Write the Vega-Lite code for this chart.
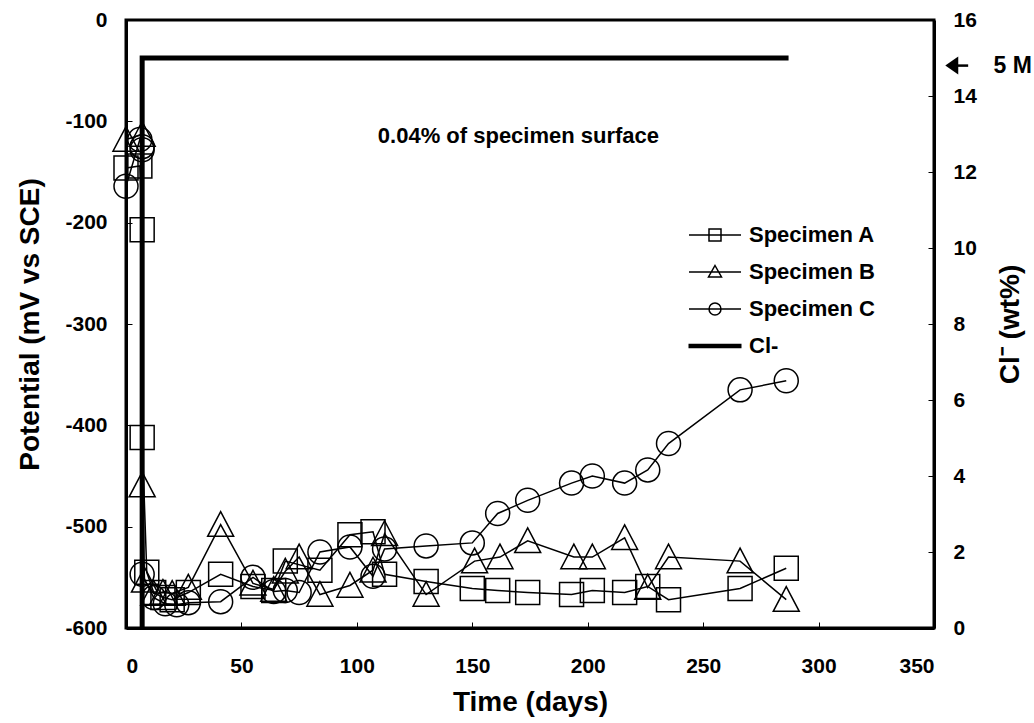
{
  "$schema": "https://vega.github.io/schema/vega-lite/v6.json",
  "width": 808,
  "height": 608,
  "autosize": {"type": "none"},
  "padding": {"left": 126, "top": 20, "right": 100, "bottom": 95},
  "background": "white",
  "config": {
    "font": "Liberation Sans",
    "view": {"stroke": "black", "strokeWidth": 3},
    "axis": {
      "labelFont": "Liberation Sans", "labelFontWeight": "bold", "labelFontSize": 21, "labelColor": "black",
      "titleFont": "Liberation Sans", "titleFontWeight": "bold", "titleFontSize": 28, "titleColor": "black",
      "domainColor": "black", "domainWidth": 3, "tickColor": "black", "tickWidth": 1, "tickSize": -6, "grid": false,
      "labelExpr": "'' + datum.value"
    },
    "legend": {
      "orient": "none", "legendX": 578, "legendY": 204, "padding": 0,
      "symbolSize": 400, "symbolStrokeColor": "black", "symbolStrokeWidth": 1.5, "symbolOpacity": 1,
      "labelFont": "Liberation Sans", "labelFontWeight": "bold", "labelFontSize": 22, "labelColor": "black",
      "labelOffset": 23, "rowPadding": 15, "symbolOffset": 0
    }
  },
  "data": {"values": [
    {"series": "Specimen A", "day": 0, "potential": -146},
    {"series": "Specimen A", "day": 6, "potential": -144},
    {"series": "Specimen A", "day": 7, "potential": -207},
    {"series": "Specimen A", "day": 7, "potential": -412},
    {"series": "Specimen A", "day": 9, "potential": -545},
    {"series": "Specimen A", "day": 12, "potential": -565},
    {"series": "Specimen A", "day": 16, "potential": -570},
    {"series": "Specimen A", "day": 20, "potential": -572},
    {"series": "Specimen A", "day": 27, "potential": -565},
    {"series": "Specimen A", "day": 41, "potential": -547},
    {"series": "Specimen A", "day": 55, "potential": -559},
    {"series": "Specimen A", "day": 64, "potential": -563},
    {"series": "Specimen A", "day": 69, "potential": -534},
    {"series": "Specimen A", "day": 84, "potential": -543},
    {"series": "Specimen A", "day": 97, "potential": -508},
    {"series": "Specimen A", "day": 107, "potential": -505},
    {"series": "Specimen A", "day": 112, "potential": -547},
    {"series": "Specimen A", "day": 130, "potential": -554},
    {"series": "Specimen A", "day": 150, "potential": -561},
    {"series": "Specimen A", "day": 161, "potential": -563},
    {"series": "Specimen A", "day": 174, "potential": -565},
    {"series": "Specimen A", "day": 193, "potential": -567},
    {"series": "Specimen A", "day": 202, "potential": -563},
    {"series": "Specimen A", "day": 216, "potential": -565},
    {"series": "Specimen A", "day": 226, "potential": -559},
    {"series": "Specimen A", "day": 235, "potential": -572},
    {"series": "Specimen A", "day": 266, "potential": -561},
    {"series": "Specimen A", "day": 286, "potential": -541},
    {"series": "Specimen B", "day": 0, "potential": -118},
    {"series": "Specimen B", "day": 7, "potential": -113},
    {"series": "Specimen B", "day": 7, "potential": -459},
    {"series": "Specimen B", "day": 8, "potential": -553},
    {"series": "Specimen B", "day": 12, "potential": -566},
    {"series": "Specimen B", "day": 16, "potential": -565},
    {"series": "Specimen B", "day": 20, "potential": -566},
    {"series": "Specimen B", "day": 27, "potential": -560},
    {"series": "Specimen B", "day": 41, "potential": -498},
    {"series": "Specimen B", "day": 55, "potential": -556},
    {"series": "Specimen B", "day": 64, "potential": -562},
    {"series": "Specimen B", "day": 69, "potential": -544},
    {"series": "Specimen B", "day": 75, "potential": -530},
    {"series": "Specimen B", "day": 84, "potential": -567},
    {"series": "Specimen B", "day": 97, "potential": -558},
    {"series": "Specimen B", "day": 107, "potential": -543},
    {"series": "Specimen B", "day": 112, "potential": -507},
    {"series": "Specimen B", "day": 130, "potential": -567},
    {"series": "Specimen B", "day": 151, "potential": -534},
    {"series": "Specimen B", "day": 162, "potential": -530},
    {"series": "Specimen B", "day": 174, "potential": -514},
    {"series": "Specimen B", "day": 194, "potential": -530},
    {"series": "Specimen B", "day": 202, "potential": -530},
    {"series": "Specimen B", "day": 216, "potential": -511},
    {"series": "Specimen B", "day": 226, "potential": -560},
    {"series": "Specimen B", "day": 235, "potential": -530},
    {"series": "Specimen B", "day": 266, "potential": -534},
    {"series": "Specimen B", "day": 286, "potential": -572},
    {"series": "Specimen C", "day": 0, "potential": -164},
    {"series": "Specimen C", "day": 6, "potential": -118},
    {"series": "Specimen C", "day": 7, "potential": -125},
    {"series": "Specimen C", "day": 7, "potential": -128},
    {"series": "Specimen C", "day": 7, "potential": -547},
    {"series": "Specimen C", "day": 12, "potential": -570},
    {"series": "Specimen C", "day": 17, "potential": -576},
    {"series": "Specimen C", "day": 22, "potential": -577},
    {"series": "Specimen C", "day": 27, "potential": -575},
    {"series": "Specimen C", "day": 41, "potential": -574},
    {"series": "Specimen C", "day": 55, "potential": -550},
    {"series": "Specimen C", "day": 64, "potential": -564},
    {"series": "Specimen C", "day": 69, "potential": -563},
    {"series": "Specimen C", "day": 75, "potential": -565},
    {"series": "Specimen C", "day": 84, "potential": -525},
    {"series": "Specimen C", "day": 97, "potential": -520},
    {"series": "Specimen C", "day": 107, "potential": -549},
    {"series": "Specimen C", "day": 112, "potential": -522},
    {"series": "Specimen C", "day": 130, "potential": -519},
    {"series": "Specimen C", "day": 150, "potential": -516},
    {"series": "Specimen C", "day": 161, "potential": -487},
    {"series": "Specimen C", "day": 174, "potential": -474},
    {"series": "Specimen C", "day": 193, "potential": -457},
    {"series": "Specimen C", "day": 202, "potential": -450},
    {"series": "Specimen C", "day": 216, "potential": -457},
    {"series": "Specimen C", "day": 226, "potential": -444},
    {"series": "Specimen C", "day": 235, "potential": -418},
    {"series": "Specimen C", "day": 266, "potential": -365},
    {"series": "Specimen C", "day": 286, "potential": -356},
    {"series": "Cl-", "day": 7, "cl": 0},
    {"series": "Cl-", "day": 7, "cl": 15},
    {"series": "Cl-", "day": 287, "cl": 15}
  ]},
  "layer": [
    {
      "layer": [
        {
          "transform": [{"filter": "datum.series !== 'Cl-'"}],
          "mark": {"type": "line", "color": "black", "strokeWidth": 1.5},
          "encoding": {
            "x": {"field": "day", "type": "quantitative", "scale": {"domain": [0, 350], "nice": false},
                  "axis": {"title": "Time (days)", "values": [0, 50, 100, 150, 200, 250, 300, 350], "labelPadding": 33, "titlePadding": 12}},
            "y": {"field": "potential", "type": "quantitative", "scale": {"domain": [-600, 0], "nice": false},
                  "axis": {"title": "Potential (mV vs SCE)", "values": [-600, -500, -400, -300, -200, -100, 0], "labelPadding": 25, "titlePadding": 20}},
            "detail": {"field": "series"}
          }
        },
        {
          "transform": [{"filter": "datum.series === 'Specimen A'"}],
          "mark": {"type": "point", "shape": "square", "size": 576, "filled": false, "stroke": "black", "strokeWidth": 1.5, "opacity": 1},
          "encoding": {
            "x": {"field": "day", "type": "quantitative", "scale": {"domain": [0, 350], "nice": false},
                  "axis": {"title": "Time (days)", "values": [0, 50, 100, 150, 200, 250, 300, 350], "labelPadding": 33, "titlePadding": 12}},
            "y": {"field": "potential", "type": "quantitative", "scale": {"domain": [-600, 0], "nice": false},
                  "axis": {"title": "Potential (mV vs SCE)", "values": [-600, -500, -400, -300, -200, -100, 0], "labelPadding": 25, "titlePadding": 20}}
          }
        },
        {
          "transform": [{"filter": "datum.series === 'Specimen B'"}],
          "mark": {"type": "point", "shape": "M0,-1L-1,0.9L1,0.9Z", "size": 676, "filled": false, "stroke": "black", "strokeWidth": 1.5, "opacity": 1},
          "encoding": {
            "x": {"field": "day", "type": "quantitative", "scale": {"domain": [0, 350], "nice": false},
                  "axis": {"title": "Time (days)", "values": [0, 50, 100, 150, 200, 250, 300, 350], "labelPadding": 33, "titlePadding": 12}},
            "y": {"field": "potential", "type": "quantitative", "scale": {"domain": [-600, 0], "nice": false},
                  "axis": {"title": "Potential (mV vs SCE)", "values": [-600, -500, -400, -300, -200, -100, 0], "labelPadding": 25, "titlePadding": 20}}
          }
        },
        {
          "transform": [{"filter": "datum.series === 'Specimen C'"}],
          "mark": {"type": "point", "shape": "circle", "size": 576, "filled": false, "stroke": "black", "strokeWidth": 1.5, "opacity": 1},
          "encoding": {
            "x": {"field": "day", "type": "quantitative", "scale": {"domain": [0, 350], "nice": false},
                  "axis": {"title": "Time (days)", "values": [0, 50, 100, 150, 200, 250, 300, 350], "labelPadding": 33, "titlePadding": 12}},
            "y": {"field": "potential", "type": "quantitative", "scale": {"domain": [-600, 0], "nice": false},
                  "axis": {"title": "Potential (mV vs SCE)", "values": [-600, -500, -400, -300, -200, -100, 0], "labelPadding": 25, "titlePadding": 20}}
          }
        },
        {
          "mark": {"type": "point", "opacity": 0, "filled": false, "stroke": "black", "strokeWidth": 1.5},
          "encoding": {
            "x": {"field": "day", "type": "quantitative", "scale": {"domain": [0, 350], "nice": false},
                  "axis": {"title": "Time (days)", "values": [0, 50, 100, 150, 200, 250, 300, 350], "labelPadding": 33, "titlePadding": 12}},
            "y": {"field": "potential", "type": "quantitative", "scale": {"domain": [-600, 0], "nice": false},
                  "axis": {"title": "Potential (mV vs SCE)", "values": [-600, -500, -400, -300, -200, -100, 0], "labelPadding": 25, "titlePadding": 20}},
            "shape": {"field": "series", "type": "nominal",
              "scale": {"domain": ["Specimen A", "Specimen B", "Specimen C", "Cl-"],
                        "range": ["M-2.6,0H2.6M-0.6,-0.6H0.6V0.6H-0.6Z", "M-2.6,0H2.6M0,-0.65L0.65,0.5H-0.65Z", "M-2.6,0H2.6M0.6,0A0.6,0.6,0,1,1,-0.6,0A0.6,0.6,0,1,1,0.6,0", "M-2.65,-0.15H2.65M-2.65,0H2.65M-2.65,0.15H2.65"]},
              "legend": {"title": null}}
          }
        },
        {
          "data": {"values": [{"label": "0.04% of specimen surface"}]},
          "mark": {"type": "text", "font": "Liberation Sans", "fontWeight": "bold", "fontSize": 22, "color": "black", "align": "center", "baseline": "alphabetic"},
          "encoding": {
            "x": {"datum": 170, "type": "quantitative", "scale": {"domain": [0, 350], "nice": false},
                  "axis": {"title": "Time (days)", "values": [0, 50, 100, 150, 200, 250, 300, 350], "labelPadding": 33, "titlePadding": 12}},
            "y": {"datum": -121.7, "type": "quantitative", "scale": {"domain": [-600, 0], "nice": false},
                  "axis": {"title": "Potential (mV vs SCE)", "values": [-600, -500, -400, -300, -200, -100, 0], "labelPadding": 25, "titlePadding": 20}},
            "text": {"field": "label"}
          }
        }
      ]
    },
    {
      "layer": [
        {
          "transform": [{"filter": "datum.series === 'Cl-'"}],
          "mark": {"type": "line", "color": "black", "strokeWidth": 5, "strokeJoin": "miter", "strokeCap": "butt"},
          "encoding": {
            "x": {"field": "day", "type": "quantitative", "scale": {"domain": [0, 350], "nice": false},
                  "axis": {"title": "Time (days)", "values": [0, 50, 100, 150, 200, 250, 300, 350], "labelPadding": 33, "titlePadding": 12}},
            "y": {"field": "cl", "type": "quantitative", "scale": {"domain": [0, 16], "nice": false},
                  "axis": {"orient": "right", "title": "Cl⁻ (wt%)", "values": [0, 2, 4, 6, 8, 10, 12, 14, 16], "labelPadding": 25, "titlePadding": 20, "titleAngle": -90, "titleBaseline": "top"}}
          }
        },
        {
          "data": {"values": [{"label": "5 M"}]},
          "mark": {"type": "rule", "color": "black", "strokeWidth": 2.5},
          "encoding": {
            "x": {"datum": 357, "type": "quantitative", "scale": {"domain": [0, 350], "nice": false},
                  "axis": {"title": "Time (days)", "values": [0, 50, 100, 150, 200, 250, 300, 350], "labelPadding": 33, "titlePadding": 12}},
            "x2": {"datum": 364.8},
            "y": {"datum": 14.8, "type": "quantitative", "scale": {"domain": [0, 16], "nice": false},
                  "axis": {"orient": "right", "title": "Cl⁻ (wt%)", "values": [0, 2, 4, 6, 8, 10, 12, 14, 16], "labelPadding": 25, "titlePadding": 20, "titleAngle": -90, "titleBaseline": "top"}}
          }
        },
        {
          "data": {"values": [{"label": "5 M"}]},
          "mark": {"type": "point", "shape": "M-0.72,0L0.72,-1L0.72,1Z", "size": 324, "filled": true, "color": "black", "opacity": 1},
          "encoding": {
            "x": {"datum": 357.7, "type": "quantitative", "scale": {"domain": [0, 350], "nice": false},
                  "axis": {"title": "Time (days)", "values": [0, 50, 100, 150, 200, 250, 300, 350], "labelPadding": 33, "titlePadding": 12}},
            "y": {"datum": 14.8, "type": "quantitative", "scale": {"domain": [0, 16], "nice": false},
                  "axis": {"orient": "right", "title": "Cl⁻ (wt%)", "values": [0, 2, 4, 6, 8, 10, 12, 14, 16], "labelPadding": 25, "titlePadding": 20, "titleAngle": -90, "titleBaseline": "top"}}
          }
        },
        {
          "data": {"values": [{"label": "5 M"}]},
          "mark": {"type": "text", "font": "Liberation Sans", "fontWeight": "bold", "fontSize": 23, "color": "black", "align": "left", "baseline": "middle"},
          "encoding": {
            "x": {"datum": 375.8, "type": "quantitative", "scale": {"domain": [0, 350], "nice": false},
                  "axis": {"title": "Time (days)", "values": [0, 50, 100, 150, 200, 250, 300, 350], "labelPadding": 33, "titlePadding": 12}},
            "y": {"datum": 14.8, "type": "quantitative", "scale": {"domain": [0, 16], "nice": false},
                  "axis": {"orient": "right", "title": "Cl⁻ (wt%)", "values": [0, 2, 4, 6, 8, 10, 12, 14, 16], "labelPadding": 25, "titlePadding": 20, "titleAngle": -90, "titleBaseline": "top"}},
            "text": {"field": "label"}
          }
        }
      ]
    }
  ],
  "resolve": {"scale": {"y": "independent"}}
}
